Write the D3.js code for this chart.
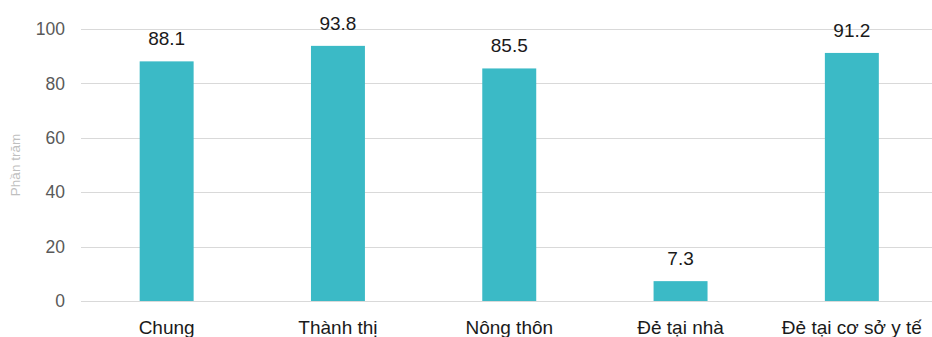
<!DOCTYPE html>
<html>
<head>
<meta charset="utf-8">
<script src="https://cdn.jsdelivr.net/npm/d3@7"></script>
<style>
  html, body { margin: 0; padding: 0; background: #fff; }
  svg { display: block; }
</style>
</head>
<body>
<svg id="chart" width="932" height="337"></svg>
<script>
// Share of births (percent) by group
const categories = ["Chung", "Thành thị", "Nông thôn", "Đẻ tại nhà", "Đẻ tại cơ sở y tế"];
const values = [88.1, 93.8, 85.5, 7.3, 91.2];
const yTicks = [0, 20, 40, 60, 80, 100];
const yTitle = "Phần trăm";

const svg = d3.select("#chart");
const W = 932, H = 337;
const plotLeft = 81, plotTop = 29, plotBottom = 301;
const step = 171.3;

const x = d3.scaleBand()
  .domain(categories)
  .range([plotLeft, plotLeft + step * categories.length])
  .paddingInner(0.685)
  .paddingOuter(0.3425);

const y = d3.scaleLinear().domain([0, 100]).range([plotBottom, plotTop]);

// gridlines
svg.append("g")
  .selectAll("line")
  .data(yTicks)
  .join("line")
  .attr("x1", plotLeft)
  .attr("x2", W)
  .attr("y1", d => Math.round(y(d)) + 0.5)
  .attr("y2", d => Math.round(y(d)) + 0.5)
  .attr("stroke", "#d9d9d9")
  .attr("stroke-width", 1);

// y axis tick labels
const yAxis = d3.axisLeft(y).tickValues(yTicks).tickSize(0).tickPadding(0);
svg.append("g")
  .attr("transform", `translate(${plotLeft - 16},0)`)
  .call(yAxis)
  .call(g => g.select(".domain").remove())
  .call(g => g.selectAll("text")
    .attr("fill", "#595959")
    .attr("font-family", "Liberation Sans, Arial, sans-serif")
    .attr("font-size", 17.5));

// y axis title
svg.append("text")
  .attr("transform", `translate(20,${(plotTop + plotBottom) / 2}) rotate(-90)`)
  .attr("text-anchor", "middle")
  .attr("fill", "#bfbfbf")
  .attr("font-family", "Liberation Sans, Arial, sans-serif")
  .attr("font-size", 13.5)
  .text(yTitle);

// bars
svg.append("g")
  .selectAll("rect")
  .data(values)
  .join("rect")
  .attr("x", (d, i) => x(categories[i]))
  .attr("width", x.bandwidth())
  .attr("y", d => y(d))
  .attr("height", d => y(0) - y(d))
  .attr("fill", "#3bbac6");

// value labels
svg.append("g")
  .selectAll("text")
  .data(values)
  .join("text")
  .attr("x", (d, i) => x(categories[i]) + x.bandwidth() / 2)
  .attr("y", d => y(d) - 16)
  .attr("text-anchor", "middle")
  .attr("fill", "#1a1a1a")
  .attr("font-family", "Liberation Sans, Arial, sans-serif")
  .attr("font-size", 19)
  .text(d => d.toFixed(1));

// category labels
svg.append("g")
  .selectAll("text")
  .data(categories)
  .join("text")
  .attr("x", d => x(d) + x.bandwidth() / 2)
  .attr("y", 334)
  .attr("text-anchor", "middle")
  .attr("fill", "#1a1a1a")
  .attr("font-family", "Liberation Sans, Arial, sans-serif")
  .attr("font-size", 19)
  .text(d => d);
</script>
</body>
</html>
